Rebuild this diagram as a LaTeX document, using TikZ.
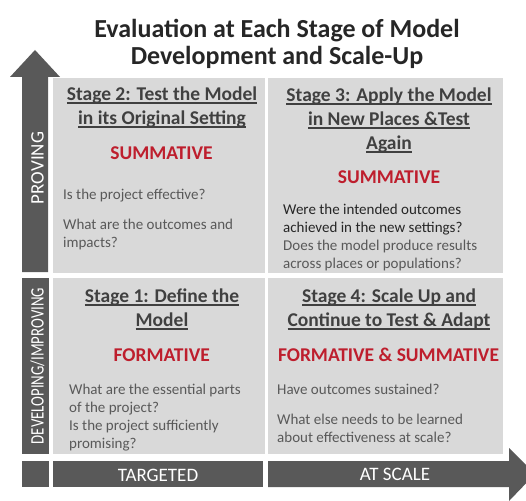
\documentclass[tikz,border=0pt]{standalone}
\usepackage{fontspec}
\setmainfont{Carlito}
\usetikzlibrary{positioning}
\definecolor{bargray}{HTML}{595959}
\definecolor{boxgray}{HTML}{D9D9D9}
\definecolor{headgray}{HTML}{404040}
\definecolor{askgray}{HTML}{595959}
\definecolor{askdark}{HTML}{262626}
\definecolor{evalred}{HTML}{BE1E2D}
\newcommand\stageul[1]{\setbox0\hbox{#1}\rlap{\rule[-3pt]{\wd0}{1.5pt}}\box0}

\begin{document}
\begin{tikzpicture}[x=1pt,y=-1pt,
    cell/.style={fill=boxgray,inner sep=0pt,anchor=north west},
    stagehead/.style={anchor=north,align=center,inner sep=0pt,text=headgray,
        font=\bfseries\fontsize{19.5}{24}\selectfont},
    kind/.style={anchor=base,inner sep=0pt,text=evalred,
        font=\bfseries\fontsize{19.5}{24}\selectfont},
    ask/.style={anchor=north west,align=left,inner sep=0pt,text=askgray,
        font=\fontsize{15}{18}\selectfont},
    barlabel/.style={anchor=base,inner sep=0pt,text=white,
        font=\fontsize{19}{23}\selectfont}]
    \clip (0,0) rectangle (526,500);
    \useasboundingbox (0,0) rectangle (526,500);
    % title
    \node[anchor=north,align=center,inner sep=0pt,text=black!85,
        font=\bfseries\fontsize{26}{27}\selectfont] (title) at (277,19)
        {Evaluation at Each Stage of Model\\Development and Scale-Up};
    % axes
    \fill[bargray] (22,272)--(22,77)--(10,77)--(35,50)--(60,77)--(48,77)--(48,272)--cycle;
    \fill[bargray] (22,278) rectangle (49,454);
    \fill[bargray] (22,461) rectangle (49,487);
    \fill[bargray] (53,461) rectangle (263,487);
    \fill[bargray] (268,461)--(509,461)--(509,448)--(535,474)--(509,501)--(509,487)--(268,487)--cycle;
    \node[barlabel,rotate=90] (proving) at (43.5,168) {PROVING};
    \node[barlabel,rotate=90] (improving) at (43.5,366)
        {\scalebox{0.78}[1]{DEVELOPING/IMPROVING}};
    \node[barlabel] (targeted) at (158,481) {TARGETED};
    \node[barlabel] (atscale) at (395,480.5) {AT SCALE};
    % quadrants
    \node[cell,minimum width=212pt,minimum height=195pt] (stageTwo) at (53,78) {};
    \node[cell,minimum width=235pt,minimum height=195pt] (stageThree) at (268,78) {};
    \node[cell,minimum width=212pt,minimum height=176pt] (stageOne) at (53,278) {};
    \node[cell,minimum width=235pt,minimum height=176pt] (stageFour) at (268,278) {};
    % stage 2
    \node[stagehead] (headTwo) at (162,87)
        {\stageul{Stage 2: Test the Model}\\\stageul{in its Original Setting}};
    \node[kind] (kindTwo) at (161.5,159) {SUMMATIVE};
    \node[ask] (askTwo) at (63,188.5)
        {Is the project effective?\\[12pt]What are the outcomes and\\impacts?};
    % stage 3
    \node[stagehead] (headThree) at (389,88)
        {\stageul{Stage 3: Apply the Model}\\\stageul{in New Places \&Test}\\\stageul{Again}};
    \node[kind] (kindThree) at (389,183) {SUMMATIVE};
    \node[ask] (askThree) at (283,203.5)
        {\color{askdark}Were the intended outcomes\\\color{askdark}achieved in the new settings?\\
        Does the model produce results\\across places or populations?};
    % stage 1
    \node[stagehead] (headOne) at (162,289)
        {\stageul{Stage 1: Define the}\\\stageul{Model}};
    \node[kind] (kindOne) at (161.7,361) {FORMATIVE};
    \node[ask] (askOne) at (69,384)
        {What are the essential parts\\of the project?\\Is the project sufficiently\\promising?};
    % stage 4
    \node[stagehead] (headFour) at (389,289)
        {\stageul{Stage 4: Scale Up and}\\\stageul{Continue to Test \& Adapt}};
    \node[kind] (kindFour) at (388.5,361) {FORMATIVE \& SUMMATIVE};
    \node[ask] (askFour) at (277,384)
        {Have outcomes sustained?\\[12pt]What else needs to be learned\\about effectiveness at scale?};
\end{tikzpicture}
\end{document}
